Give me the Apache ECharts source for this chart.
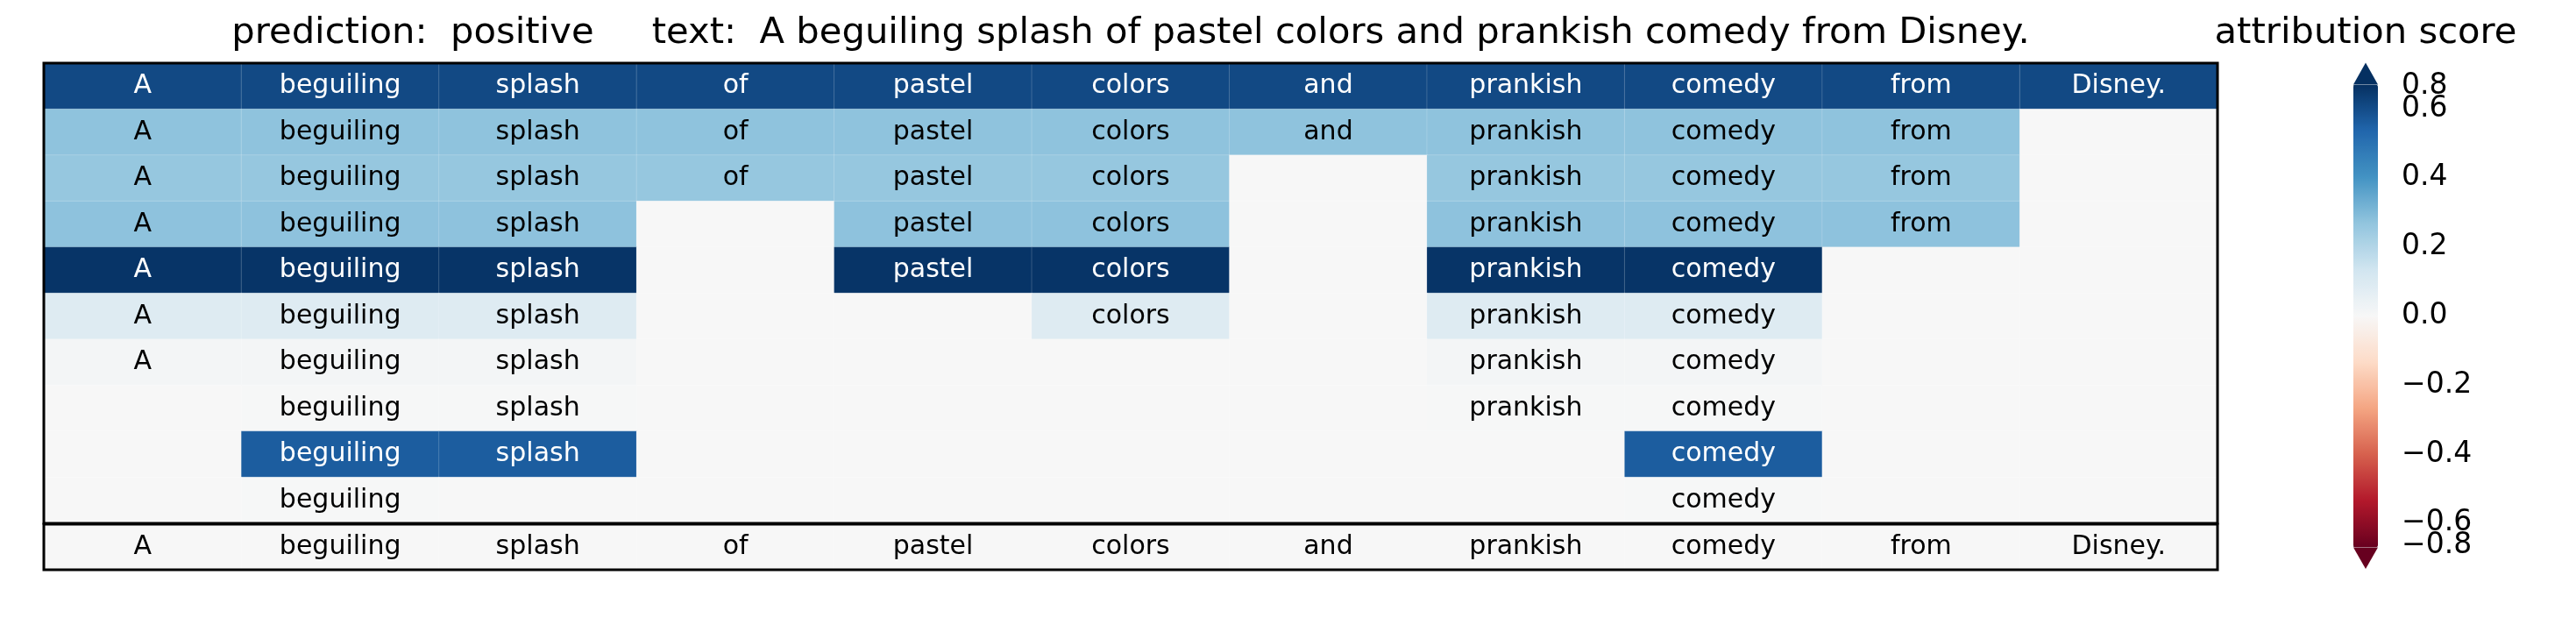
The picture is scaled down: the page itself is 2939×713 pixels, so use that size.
<!DOCTYPE html>
<html>
<head>
<meta charset="utf-8">
<script src="https://cdn.jsdelivr.net/npm/echarts@6/dist/echarts.min.js"></script>
<style>
  html, body { margin: 0; padding: 0; background: #fff; }
  #chart { width: 2939px; height: 713px; }
</style>
</head>
<body>
<div id="chart"></div>
<script>
// tokens of the sentence (one column each)
const words = ['A', 'beguiling', 'splash', 'of', 'pastel', 'colors', 'and', 'prankish', 'comedy', 'from', 'Disney.']

// hierarchy levels: which tokens are still kept on each row
const rowWords = [
  [0, 1, 2, 3, 4, 5, 6, 7, 8, 9, 10],
  [0, 1, 2, 3, 4, 5, 6, 7, 8, 9],
  [0, 1, 2, 3, 4, 5, 7, 8, 9],
  [0, 1, 2, 4, 5, 7, 8, 9],
  [0, 1, 2, 4, 5, 7, 8],
  [0, 1, 2, 5, 7, 8],
  [0, 1, 2, 7, 8],
  [1, 2, 7, 8],
  [1, 2, 8],
  [1, 8]
]
// attribution score of each row
const rowScores = [0.607, 0.273, 0.26, 0.275, 0.66, 0.088, 0.014, 0.003, 0.559, 0.002]
// the plain text row at the bottom
const textRowScores = [0, 0, 0, 0, 0, 0, 0, 0, 0, 0, 0]

// colorbar
const scoreMax = 0.67
const cbTicks = [-0.6, -0.4, -0.2, 0, 0.2, 0.4, 0.6]
const cbEndTicks = [-0.8, 0.8]
const cbEdge = 0.665 // ticks past the bar end sit on its edge

const predLabel = 'positive'
const sentence = 'A beguiling splash of pastel colors and prankish comedy from Disney.'

const FONT = 'DejaVu Sans'
const RdBu = ['#67001f', '#b2182b', '#d6604d', '#f4a582', '#fddbc7', '#f7f7f7',
  '#d1e5f0', '#92c5de', '#4393c3', '#2166ac', '#053061']

const hierData = []
rowWords.forEach((keep, r) => {
  words.forEach((w, c) => {
    const on = keep.indexOf(c) >= 0
    hierData.push([c, r, on ? rowScores[r] : 0, on ? w : ''])
  })
})
const textData = words.map((w, c) => [c, 0, textRowScores[c], w])

const fmtNum = v => (v < 0 ? '\u2212' : '') + Math.abs(v).toFixed(1)
const endPos = cbEndTicks.map(v => Math.max(-cbEdge, Math.min(cbEdge, v)))

const cellLabel = {
  show: true,
  formatter: p => {
    const w = p.data[3]
    if (!w) return ''
    return (Math.abs(p.data[2]) > 0.4 ? '{w|' : '{b|') + w + '}'
  },
  rich: {
    w: { color: '#fff', fontSize: 30, fontFamily: FONT },
    b: { color: '#000', fontSize: 30, fontFamily: FONT }
  }
}
const cellStyle = { borderColor: 'rgba(255,255,255,0.18)', borderWidth: 1 }

function cbAxis(grid, values, fmt) {
  return {
    type: 'value', gridIndex: grid, position: 'right', min: -scoreMax, max: scoreMax,
    axisLine: { show: false },
    splitLine: { show: false },
    axisTick: { show: true, customValues: values, length: 14, lineStyle: { color: '#000', width: 2.5 } },
    axisLabel: { customValues: values, formatter: fmt, hideOverlap: false, margin: 27, color: '#000', fontSize: 33, fontFamily: FONT }
  }
}

const chart = echarts.init(document.getElementById('chart'))
chart.setOption({
  animation: false,
  backgroundColor: '#fff',
  graphic: [
    {
      type: 'text', x: 1290, y: 38,
      style: {
        text: 'prediction:  ' + predLabel + '     text:  ' + sentence,
        font: '41.7px "' + FONT + '"', fill: '#000', align: 'center', verticalAlign: 'middle'
      }
    },
    {
      type: 'text', x: 2699, y: 38,
      style: {
        text: 'attribution score',
        font: '41.7px "' + FONT + '"', fill: '#000', align: 'center', verticalAlign: 'middle'
      }
    },
    {
      type: 'polygon',
      shape: { points: [[2685, 96.5], [2713, 96.5], [2699, 71.5]] },
      style: { fill: RdBu[10] }
    },
    {
      type: 'polygon',
      shape: { points: [[2685, 624.5], [2713, 624.5], [2699, 649]] },
      style: { fill: RdBu[0] }
    }
  ],
  grid: [
    { left: 50, top: 72, width: 2480, height: 525, show: true, backgroundColor: 'transparent', borderColor: '#000', borderWidth: 3, z: 10 },
    { left: 50, top: 598, width: 2480, height: 52, show: true, backgroundColor: 'transparent', borderColor: '#000', borderWidth: 3, z: 10 },
    { left: 2685, top: 96.5, width: 28, height: 528 },
    { left: 2685, top: 96.5, width: 28, height: 528 }
  ],
  xAxis: [
    { type: 'category', gridIndex: 0, data: words, show: false },
    { type: 'category', gridIndex: 1, data: words, show: false },
    { type: 'value', gridIndex: 2, show: false, min: 0, max: 1 },
    { type: 'value', gridIndex: 3, show: false, min: 0, max: 1 }
  ],
  yAxis: [
    { type: 'category', gridIndex: 0, data: rowScores.map((s, i) => 'level ' + i), inverse: true, show: false },
    { type: 'category', gridIndex: 1, data: ['text'], show: false },
    cbAxis(2, cbTicks, fmtNum),
    cbAxis(3, endPos, v => fmtNum(v > 0 ? cbEndTicks[1] : cbEndTicks[0]))
  ],
  visualMap: {
    type: 'continuous',
    seriesIndex: [0, 1],
    dimension: 2,
    min: -scoreMax,
    max: scoreMax,
    calculable: false,
    hoverLink: false,
    orient: 'vertical',
    left: 2685,
    top: 96.5,
    itemWidth: 28,
    itemHeight: 528,
    padding: 0,
    text: null,
    inRange: { color: RdBu }
  },
  series: [
    {
      type: 'heatmap', xAxisIndex: 0, yAxisIndex: 0,
      data: hierData, label: cellLabel, itemStyle: cellStyle
    },
    {
      type: 'heatmap', xAxisIndex: 1, yAxisIndex: 1,
      data: textData, label: cellLabel, itemStyle: cellStyle
    }
  ]
})
</script>
</body>
</html>
